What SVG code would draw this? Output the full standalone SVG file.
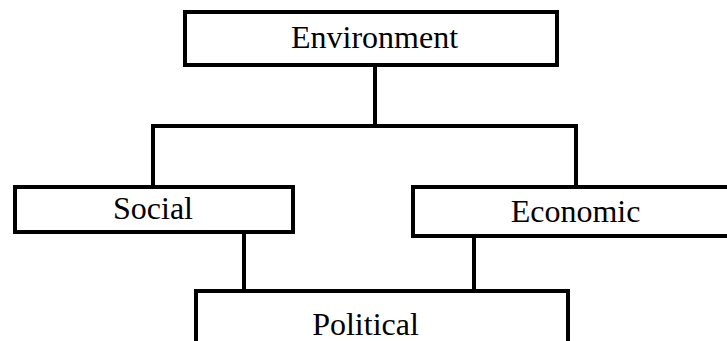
<svg xmlns="http://www.w3.org/2000/svg" width="727" height="341" viewBox="0 0 727 341">
  <style>
    .box { fill: #ffffff; stroke: #000000; stroke-width: 4; }
    .label { font-family: "Liberation Serif", "Times New Roman", serif; font-size: 32px; fill: #000000; text-anchor: middle; }
    .wire { fill: none; stroke: #000000; stroke-width: 4; stroke-linejoin: miter; stroke-linecap: butt; }
  </style>
  <rect width="727" height="341" fill="#ffffff"/>

  <!-- connectors -->
  <g id="connectors">
    <path class="wire" d="M375,65 V126"/>
    <path class="wire" d="M153,188 V126 H576 V188"/>
    <path class="wire" d="M244,232 V291"/>
    <path class="wire" d="M474,236 V291"/>
  </g>

  <g id="environment">
    <rect class="box" x="185" y="12" width="372" height="53"/>
    <text class="label" x="374.5" y="48">Environment</text>
  </g>

  <g id="social">
    <rect class="box" x="15" y="187" width="278" height="45"/>
    <text class="label" x="153" y="219">Social</text>
  </g>

  <g id="economic">
    <rect class="box" x="413" y="187" width="330" height="49"/>
    <text class="label" x="575.5" y="222">Economic</text>
  </g>

  <g id="political">
    <rect class="box" x="196" y="291" width="372" height="70"/>
    <text class="label" x="365.5" y="335">Political</text>
  </g>
</svg>
